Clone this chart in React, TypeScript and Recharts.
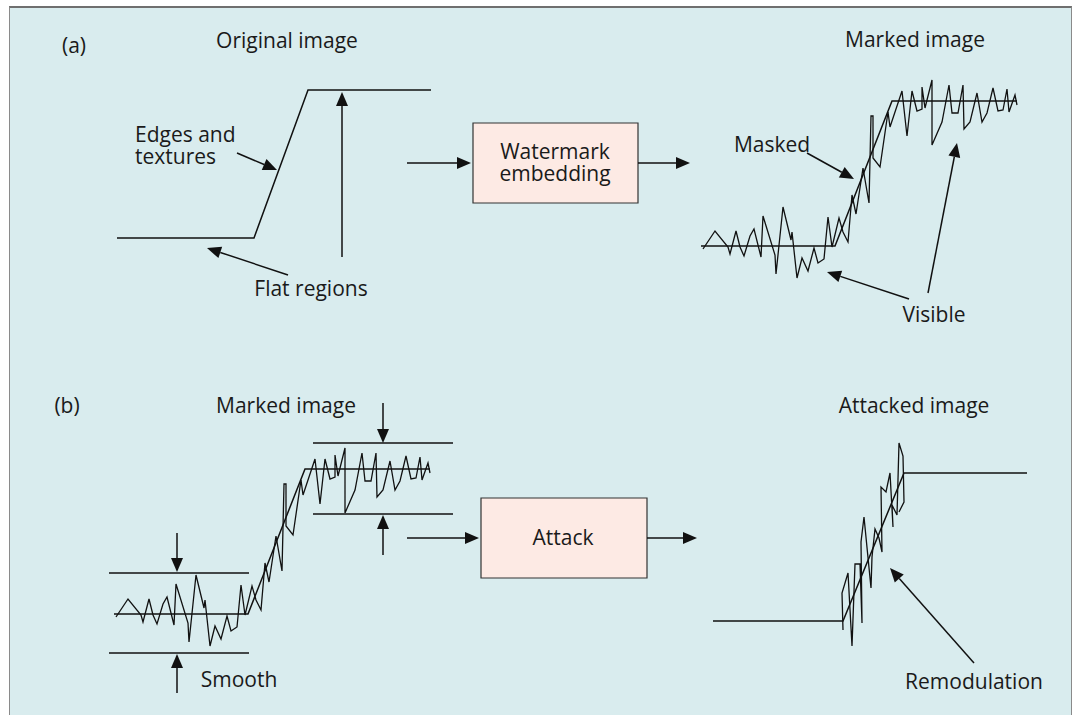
import { LineChart, Line, XAxis, YAxis, ReferenceLine, ReferenceArea, ReferenceDot } from 'recharts';

// signals (x across, y down, in picture units)
const originalStep = [
  { x: 117, y: 238 }, { x: 254, y: 238 }, { x: 308, y: 90 }, { x: 431, y: 90 },
];

const markedStep = [
  { x: 701, y: 246 }, { x: 835, y: 246 }, { x: 892, y: 101 }, { x: 1017, y: 101 },
];

const markedNoise = [
  { x: 703, y: 249 }, { x: 715, y: 231 }, { x: 728, y: 247 }, { x: 730, y: 254 },
  { x: 736, y: 231 }, { x: 740, y: 247 }, { x: 744, y: 256 }, { x: 750, y: 236 },
  { x: 754, y: 229 }, { x: 761, y: 257 }, { x: 763, y: 216 }, { x: 775, y: 255 },
  { x: 776, y: 274 }, { x: 783, y: 207 }, { x: 791, y: 240 }, { x: 792, y: 232 },
  { x: 797, y: 278 }, { x: 802, y: 258 }, { x: 808, y: 271 }, { x: 814, y: 248 },
  { x: 818, y: 263 }, { x: 824, y: 259 }, { x: 828, y: 217 }, { x: 832, y: 247 },
  { x: 839, y: 218 }, { x: 843, y: 232 }, { x: 848, y: 242 }, { x: 852, y: 195 },
  { x: 856, y: 214 }, { x: 863, y: 168 }, { x: 869, y: 203 }, { x: 871, y: 116 },
  { x: 873, y: 116 }, { x: 873, y: 158 }, { x: 880, y: 167 }, { x: 888, y: 112 },
  { x: 890, y: 127 }, { x: 902, y: 91 }, { x: 907, y: 136 }, { x: 912, y: 91 },
  { x: 917, y: 111 }, { x: 922, y: 109 }, { x: 922, y: 87 }, { x: 925, y: 108 },
  { x: 932, y: 80 }, { x: 932, y: 145 }, { x: 942, y: 122 }, { x: 949, y: 85 },
  { x: 952, y: 113 }, { x: 958, y: 113 }, { x: 963, y: 85 }, { x: 964, y: 129 },
  { x: 970, y: 122 }, { x: 977, y: 93 }, { x: 982, y: 122 }, { x: 987, y: 113 },
  { x: 993, y: 88 }, { x: 998, y: 111 }, { x: 1003, y: 110 }, { x: 1007, y: 89 },
  { x: 1009, y: 112 }, { x: 1015, y: 95 }, { x: 1017, y: 105 },
];

const attackedStep = [
  { x: 713, y: 621 }, { x: 843, y: 621 }, { x: 904, y: 473 }, { x: 1027, y: 473 },
];

const attackedNoise = [
  { x: 843, y: 630 }, { x: 842, y: 593 }, { x: 848, y: 573 }, { x: 852, y: 646 },
  { x: 855, y: 564 }, { x: 860, y: 564 }, { x: 862, y: 623 }, { x: 861, y: 542 },
  { x: 864, y: 517 }, { x: 871, y: 588 }, { x: 872, y: 557 }, { x: 875, y: 529 },
  { x: 879, y: 538 }, { x: 882, y: 552 }, { x: 881, y: 487 }, { x: 886, y: 492 },
  { x: 890, y: 473 }, { x: 893, y: 527 }, { x: 892, y: 505 }, { x: 897, y: 515 },
  { x: 899, y: 443 }, { x: 903, y: 456 }, { x: 904, y: 502 }, { x: 899, y: 512 },
];

// annotations
const arrows = [
  [237, 153, 277, 170], [288, 275, 207, 248], [342, 257, 342, 92],
  [407, 163, 471, 163], [638, 163, 690, 163],
  [807, 153, 854, 179], [909, 299, 827, 272], [928, 293, 957, 143],
  [177, 533, 177, 572], [177, 693, 177, 654], [383, 403, 383, 443], [383, 555, 383, 515],
  [407, 538, 479, 538], [647, 538, 697, 538], [974, 663, 890, 568],
];

const bands = [
  [109, 573, 249, 573], [109, 653, 249, 653], [313, 443, 453, 443], [313, 514, 453, 514],
];

const boxes = [
  { x1: 473, y1: 123, x2: 638, y2: 203 },
  { x1: 481, y1: 498, x2: 647, y2: 578 },
];

const labels = [
  { t: ['(a)'], x: 74, y: 53 },
  { t: ['Original image'], x: 287, y: 48 },
  { t: ['Edges and', 'textures'], x: 135, y: 142, a: 'start' },
  { t: ['Flat regions'], x: 311, y: 296 },
  { t: ['Watermark', 'embedding'], x: 555, y: 159 },
  { t: ['Marked image'], x: 915, y: 47 },
  { t: ['Masked'], x: 772, y: 152 },
  { t: ['Visible'], x: 934, y: 322 },
  { t: ['(b)'], x: 67, y: 413 },
  { t: ['Marked image'], x: 286, y: 413 },
  { t: ['Smooth'], x: 239, y: 687 },
  { t: ['Attack'], x: 563, y: 545 },
  { t: ['Attacked image'], x: 914, y: 413 },
  { t: ['Remodulation'], x: 974, y: 689 },
];

const ArrowShape = (props: any) => {
  const { x1, y1, x2, y2 } = props;
  const dx = x2 - x1, dy = y2 - y1;
  const len = Math.sqrt(dx * dx + dy * dy) || 1;
  const ux = dx / len, uy = dy / len;
  const bx = x2 - ux * 14, by = y2 - uy * 14;
  const pts = `${x2},${y2} ${bx - uy * 6},${by + ux * 6} ${bx + uy * 6},${by - ux * 6}`;
  return (
    <g>
      <line x1={x1} y1={y1} x2={bx} y2={by} stroke="#111" strokeWidth={1.5} />
      <polygon points={pts} fill="#111" />
    </g>
  );
};

const TextShape = (anchor: string, lines: string[]) => (props: any) => (
  <text x={props.cx} y={props.cy} textAnchor={anchor} fontSize={21}
    fontFamily="'Open Sans', sans-serif" fill="#1a1a1a">
    {lines.map((s, i) => (
      <tspan key={i} x={props.cx} dy={i === 0 ? 0 : 22}>{s}</tspan>
    ))}
  </text>
);

export default function App() {
  return (
    <div style={{ position: 'fixed', left: 0, top: 0, width: 1075, height: 715, background: '#fff' }}>
      <div style={{
        position: 'absolute', left: 9, top: 6, width: 1061, height: 709,
        background: '#d9ecee', borderTop: '2px solid #6f6f6f', borderLeft: '1px solid #8a8a8a',
        borderRight: '1px solid #8a8a8a',
      }} />
      <div style={{ position: 'absolute', left: 0, top: 0 }}>
        <LineChart width={1075} height={715} margin={{ top: 0, right: 0, bottom: 0, left: 0 }}>
          <XAxis xAxisId="a" type="number" dataKey="x" domain={[0, 1075]} hide allowDataOverflow />
          <XAxis xAxisId="b" type="number" dataKey="x" domain={[587, 1662]} hide allowDataOverflow />
          <YAxis yAxisId="a" type="number" domain={[0, 715]} reversed hide allowDataOverflow />
          <YAxis yAxisId="b" type="number" domain={[-368, 347]} reversed hide allowDataOverflow />

          {boxes.map((b, i) => (
            <ReferenceArea key={'box' + i} xAxisId="a" yAxisId="a" x1={b.x1} x2={b.x2} y1={b.y1} y2={b.y2}
              fill="#fdeae4" fillOpacity={1} stroke="#333" strokeWidth={1.2} />
          ))}

          <Line xAxisId="a" yAxisId="a" data={originalStep} dataKey="y" stroke="#111" strokeWidth={1.5}
            dot={false} isAnimationActive={false} />
          <Line xAxisId="a" yAxisId="a" data={markedStep} dataKey="y" stroke="#111" strokeWidth={1.5}
            dot={false} isAnimationActive={false} />
          <Line xAxisId="a" yAxisId="a" data={markedNoise} dataKey="y" stroke="#111" strokeWidth={1.3}
            dot={false} isAnimationActive={false} />
          <Line xAxisId="b" yAxisId="b" data={markedStep} dataKey="y" stroke="#111" strokeWidth={1.5}
            dot={false} isAnimationActive={false} />
          <Line xAxisId="b" yAxisId="b" data={markedNoise} dataKey="y" stroke="#111" strokeWidth={1.3}
            dot={false} isAnimationActive={false} />
          <Line xAxisId="a" yAxisId="a" data={attackedStep} dataKey="y" stroke="#111" strokeWidth={1.5}
            dot={false} isAnimationActive={false} />
          <Line xAxisId="a" yAxisId="a" data={attackedNoise} dataKey="y" stroke="#111" strokeWidth={1.3}
            dot={false} isAnimationActive={false} />

          {bands.map((s, i) => (
            <ReferenceLine key={'band' + i} xAxisId="a" yAxisId="a" stroke="#111" strokeWidth={1.5}
              segment={[{ x: s[0], y: s[1] }, { x: s[2], y: s[3] }]} />
          ))}
          {arrows.map((s, i) => (
            <ReferenceLine key={'arr' + i} xAxisId="a" yAxisId="a" shape={ArrowShape}
              segment={[{ x: s[0], y: s[1] }, { x: s[2], y: s[3] }]} />
          ))}
          {labels.map((l, i) => (
            <ReferenceDot key={'lab' + i} xAxisId="a" yAxisId="a" x={l.x} y={l.y} r={0}
              shape={TextShape(l.a || 'middle', l.t)} />
          ))}
        </LineChart>
      </div>
    </div>
  );
}
